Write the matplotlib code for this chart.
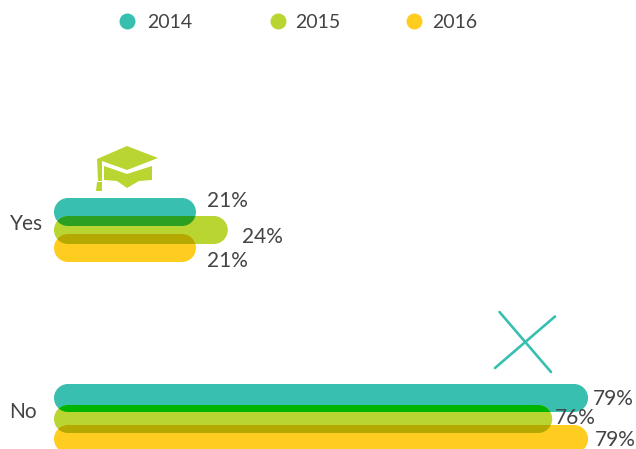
import matplotlib
matplotlib.use('Agg')
import matplotlib.pyplot as plt
from matplotlib.patches import PathPatch, Polygon
from matplotlib.path import Path
from matplotlib.transforms import Affine2D

plt.rcParams['font.family'] = ['Lato', 'DejaVu Sans']

# values
categories = ['Yes', 'No']
years = ['2014', '2015', '2016']
colors = ['#38bfb0', '#b9d531', '#fecd1f']
# printed labels, bar lengths do not quite follow them in the original
labels_2014 = ['21%', '79%']
labels_2015 = ['24%', '76%']
labels_2016 = ['21%', '79%']
bars_2014 = [21.0, 79.0]
bars_2015 = [25.7, 73.7]
bars_2016 = [21.0, 79.0]

W, H = 636, 449
X0 = 54         # pixel of value 0
PX_X = 6.76     # pixels per percent
Y0 = 230        # pixel of category Yes
PX_Y = 189      # pixels per category
BAR_H = 28 / PX_Y
RX = 14 / PX_X
TEXT = '#444446'
KAPPA = 0.5523

fig = plt.figure(figsize=(W / 100, H / 100), dpi=100)
ax = fig.add_axes([0, 0, 1, 1])
ax.set_xlim(-X0 / PX_X, (W - X0) / PX_X)
ax.set_ylim((H - Y0) / PX_Y, -Y0 / PX_Y)
ax.axis('off')

# picture pixels, y going down
px = Affine2D().scale(1, -1).translate(0, H)


# pill shaped bar from zero to val
def bar(y, val, color, zorder=2):
    ry = BAR_H / 2
    kx, ky = RX * KAPPA, ry * KAPPA
    verts = [(RX, y - ry), (val - RX, y - ry),
             (val - RX + kx, y - ry), (val, y - ky), (val, y),
             (val, y + ky), (val - RX + kx, y + ry), (val - RX, y + ry),
             (RX, y + ry),
             (RX - kx, y + ry), (0, y + ky), (0, y),
             (0, y - ky), (RX - kx, y - ry), (RX, y - ry),
             (RX, y - ry)]
    codes = [Path.MOVETO, Path.LINETO] + [Path.CURVE4] * 6 + [Path.LINETO] + [Path.CURVE4] * 6 + [Path.CLOSEPOLY]
    p = PathPatch(Path(verts, codes), fc=color, ec='none', zorder=zorder)
    ax.add_patch(p)
    return p


# bar centres around each category, the spacing differs a bit per group
offsets = {'Yes': [-18 / PX_Y, 0, 18 / PX_Y], 'No': [-21 / PX_Y, 0, 20 / PX_Y]}
overlap_top = ['#2a9f22', '#00b400']
overlap_bot = ['#b5a800', '#b5a800']
label_y = [[201, 237, 261], [399, 418, 440]]
label_gap = [[11, 14, 11], [5, 3, 7]]
cat_y = [224, 412]

for i, cat in enumerate(categories):
    vals = [bars_2014[i], bars_2015[i], bars_2016[i]]
    labs = [labels_2014[i], labels_2015[i], labels_2016[i]]
    ys = [i + o for o in offsets[cat]]
    patches = [bar(y, v, c) for y, v, c in zip(ys, vals, colors)]

    # overlaps get their own darker colour
    top = bar(ys[0], vals[0], overlap_top[i], zorder=3)
    top.set_clip_path(patches[1])
    low = bar(ys[2], vals[2], overlap_bot[i], zorder=3)
    low.set_clip_path(patches[1])

    for v, lab, ly, gap in zip(vals, labs, label_y[i], label_gap[i]):
        ax.text(X0 + v * PX_X + gap, ly, lab, transform=px, fontsize=15, color=TEXT,
                va='center', ha='left', zorder=5)
    ax.text(9.5, cat_y[i], cat, transform=px, fontsize=15, color=TEXT, va='center', ha='left')

# legend
legend_dot = [126.7, 277.5, 414]
legend_txt = [147, 295, 432]
for yr, c, dx, tx in zip(years, colors, legend_dot, legend_txt):
    ax.plot([dx], [21], 'o', ms=11.5, color=c, mec='none', transform=px, clip_on=False)
    ax.text(tx, 23, yr, transform=px, fontsize=14, color=TEXT, va='center', ha='left')

# cap icon
hat = '#b9d531'
top_shape = [(127, 146), (158, 158), (127, 170), (102, 161), (102, 181), (98, 181), (97, 159)]
body = [(104, 166), (127, 174), (152, 166), (152, 180), (139, 181), (127, 188), (117, 181), (104, 180)]
tassel = [(97, 182), (102, 182), (102, 191), (96, 191)]
for shape in (top_shape, body, tassel):
    ax.add_patch(Polygon(shape, closed=True, fc=hat, ec='none', transform=px))

# cross icon
teal = '#38bfb0'
ax.plot([499.5, 551], [312, 372], color=teal, lw=1.9, transform=px, solid_capstyle='round')
ax.plot([555, 495], [316.5, 368], color=teal, lw=1.9, transform=px, solid_capstyle='round')

fig.savefig('out.png', dpi=100)
